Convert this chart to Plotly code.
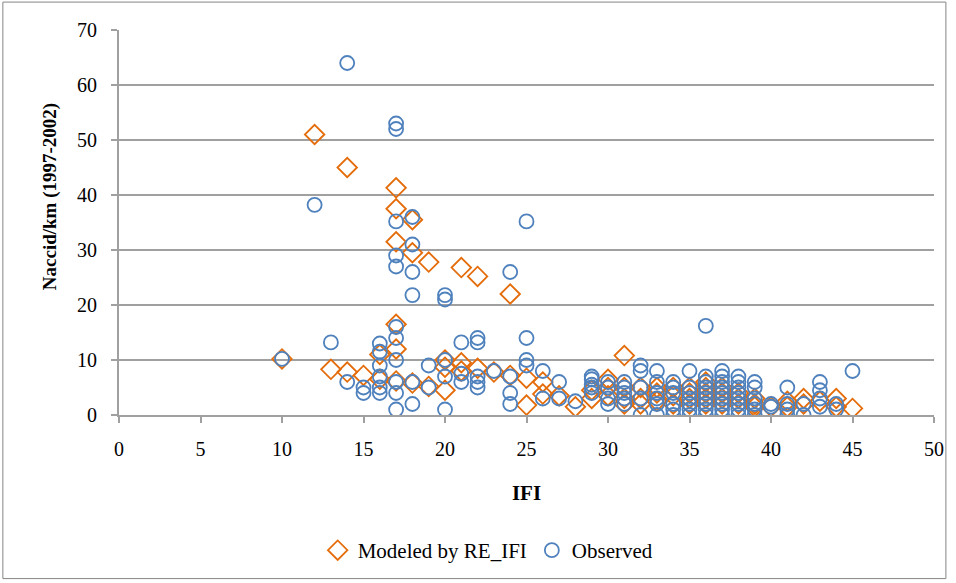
import plotly.graph_objects as go

# Observed values (IFI, Naccid/km)
obs_ifi = [10, 12, 13, 14, 14, 15, 15,
           16, 16, 16, 16, 16, 16,
           17, 17, 17, 17, 17, 17, 17, 17, 17, 17, 17,
           18, 18, 18, 18, 18, 18,
           19, 19,
           20, 20, 20, 20, 20,
           21, 21, 21,
           22, 22, 22, 22, 22,
           23,
           24, 24, 24, 24,
           25, 25, 25, 25,
           26, 26, 27, 27, 28,
           29, 29, 29, 29, 29,
           30, 30, 30, 30,
           31, 31, 31, 31, 31,
           32, 32, 32, 32, 32,
           33, 33, 33, 33, 33, 33,
           34, 34, 34, 34, 34, 34,
           35, 35, 35, 35, 35, 35, 35,
           36, 36, 36, 36, 36, 36, 36, 36, 36,
           37, 37, 37, 37, 37, 37, 37, 37, 37,
           38, 38, 38, 38, 38, 38, 38, 38,
           39, 39, 39, 39, 39, 39,
           40, 40,
           41, 41, 41, 41,
           42, 42,
           43, 43, 43, 43,
           44, 44,
           45]
obs_val = [10.2, 38.2, 13.2, 64.0, 6.0, 5.0, 4.0,
           13.0, 11.5, 9.0, 7.0, 5.0, 4.0,
           53.0, 52.0, 35.2, 29.0, 27.0, 16.0, 14.0, 10.0, 6.0, 4.0, 1.0,
           36.0, 31.0, 26.0, 21.8, 6.0, 2.0,
           9.0, 5.0,
           21.8, 21.0, 10.0, 7.0, 1.0,
           13.2, 7.5, 6.0,
           14.0, 13.2, 7.0, 6.0, 5.0,
           8.0,
           26.0, 7.0, 4.0, 2.0,
           35.2, 14.0, 10.0, 9.0,
           8.0, 3.0, 6.0, 3.0, 2.5,
           7.0, 6.5, 5.5, 5.0, 4.0,
           6.0, 5.0, 3.0, 2.0,
           6.0, 5.0, 4.0, 3.0, 2.0,
           9.0, 8.0, 5.0, 3.0, 0.0,
           8.0, 6.0, 4.0, 3.0, 2.0, 0.0,
           6.0, 5.0, 4.0, 2.0, 1.0, 0.0,
           8.0, 5.0, 4.0, 3.0, 2.0, 1.0, 0.0,
           16.2, 7.0, 6.0, 5.0, 4.0, 3.0, 2.0, 1.0, 0.0,
           8.0, 7.0, 6.0, 5.0, 4.0, 3.0, 2.0, 1.0, 0.0,
           7.0, 6.0, 5.0, 4.0, 3.0, 2.0, 1.0, 0.0,
           6.0, 5.0, 3.0, 2.0, 1.0, 0.0,
           2.0, 1.5,
           5.0, 2.0, 1.0, 0.0,
           2.0, 0.0,
           6.0, 4.5, 3.0, 1.5,
           2.0, 1.0,
           8.0]

# Modeled by RE_IFI
mod_ifi = [10, 12, 13, 14, 14, 15,
           16, 16,
           17, 17, 17, 17, 17, 17,
           18, 18, 18,
           19, 19,
           20, 20, 20,
           21, 21, 21,
           22, 22,
           23,
           24, 24,
           25, 25,
           26, 26, 27, 28,
           29, 29,
           30, 30, 30,
           31, 31, 31, 31,
           32, 32, 32,
           33, 33, 33,
           34, 34, 34,
           35, 35, 35, 35,
           36, 36, 36, 36, 36,
           37, 37, 37, 37,
           38, 38, 38,
           39, 39, 39,
           40,
           41, 41,
           42, 42,
           43,
           44, 44,
           45]
mod_val = [10.2, 51.0, 8.3, 45.0, 7.8, 7.2,
           11.0, 6.5,
           41.3, 37.5, 31.5, 16.5, 12.0, 6.2,
           35.5, 29.5, 5.8,
           27.8, 5.2,
           10.0, 8.7, 4.5,
           26.8, 9.5, 8.0,
           25.2, 8.5,
           7.8,
           22.0, 7.2,
           6.7, 1.8,
           6.0, 3.8, 3.5, 1.5,
           4.5, 3.0,
           6.5, 5.0, 3.5,
           10.8, 5.0, 3.0, 2.0,
           5.0, 3.0, 2.0,
           5.0, 4.0, 2.5,
           5.0, 3.5, 2.0,
           5.0, 4.0, 3.0, 2.0,
           6.0, 5.0, 4.0, 3.0, 2.0,
           5.0, 4.0, 3.0, 2.0,
           4.0, 3.0, 2.0,
           3.0, 2.0, 1.5,
           1.5,
           2.5, 1.5,
           3.0, 2.0,
           2.5,
           3.0, 1.5,
           1.2]

x_ticks = [0, 5, 10, 15, 20, 25, 30, 35, 40, 45, 50]
y_ticks = [0, 10, 20, 30, 40, 50, 60, 70]

ORANGE = "#E46C0A"
BLUE = "#4F81BD"
GRID = "#A0A0A0"
FONT = "Liberation Serif, Times New Roman, serif"

fig = go.Figure()
fig.add_trace(go.Scatter(
    x=mod_ifi, y=mod_val, mode="markers", name="Modeled by RE_IFI",
    marker=dict(symbol="diamond-open", size=15, color=ORANGE, line=dict(width=1.8, color=ORANGE)),
))
fig.add_trace(go.Scatter(
    x=obs_ifi, y=obs_val, mode="markers", name="Observed",
    marker=dict(symbol="circle-open", size=14, color=BLUE, line=dict(width=1.8, color=BLUE)),
))

fig.update_layout(
    width=956, height=583,
    margin=dict(l=119, r=17, t=30, b=167),
    paper_bgcolor="white", plot_bgcolor="white",
    font=dict(family=FONT, size=20, color="black"),
    showlegend=True,
    legend=dict(orientation="h", x=0.453, xanchor="center", y=-0.352, yanchor="middle",
                font=dict(family=FONT, size=21), itemwidth=30, tracegroupgap=0),
    xaxis=dict(range=[0, 50], tickvals=x_ticks, ticktext=[str(v) for v in x_ticks],
               showgrid=False, zeroline=False, showline=True, linecolor=GRID, linewidth=2,
               ticks="outside", ticklen=6, tickcolor=GRID, tickwidth=2,
               ticklabelstandoff=9,
               tickfont=dict(family=FONT, size=20),
               title=dict(text="<b>IFI</b>", font=dict(family=FONT, size=21), standoff=26)),
    yaxis=dict(range=[0, 70], tickvals=y_ticks, ticktext=[str(v) for v in y_ticks],
               showgrid=True, gridcolor=GRID, gridwidth=2, zeroline=False,
               showline=True, linecolor=GRID, linewidth=2,
               ticks="outside", ticklen=6, tickcolor=GRID, tickwidth=2,
               ticklabelstandoff=10,
               tickfont=dict(family=FONT, size=20)),
    annotations=[dict(text="<b>Naccid/km (1997-2002)</b>", textangle=-90,
                      xref="paper", yref="paper", x=-0.0853, y=0.567,
                      xanchor="center", yanchor="middle", showarrow=False,
                      font=dict(family=FONT, size=19, color="black"))],
    shapes=[dict(type="rect", xref="paper", yref="paper",
                 x0=-0.1425, x1=1.0146, y0=-0.4249, y1=1.0725,
                 line=dict(color="#868686", width=1), fillcolor="rgba(0,0,0,0)", layer="below")],
)

fig.write_html("out.html")
